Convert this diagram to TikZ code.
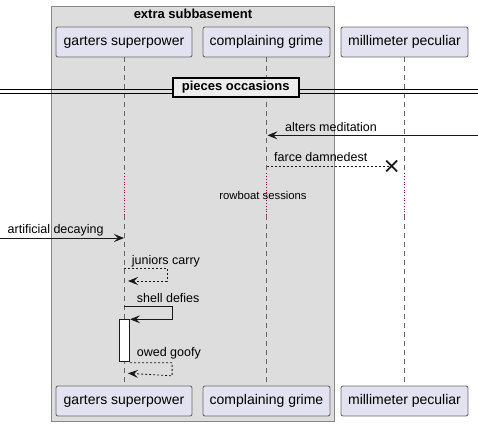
\documentclass[tikz,border=0pt]{standalone}
\usepackage{fontspec}
\setmainfont{Liberation Sans}
\usetikzlibrary{arrows.meta,shapes.misc}

\definecolor{partfill}{HTML}{E2E2F0}
\definecolor{partline}{HTML}{6A6A6A}
\definecolor{boxfill}{HTML}{DDDDDD}
\definecolor{boxline}{HTML}{888888}
\definecolor{delayred}{HTML}{A80036}

\tikzset{
  actorbox/.style={draw=partline, fill=partfill, rounded corners=2pt, line width=0.9pt,
    minimum height=30pt, inner sep=0pt, font=\fontsize{14}{16}\selectfont},
  lifeline/.style={draw=black!60, dash pattern=on 5pt off 4pt, line width=0.6pt},
  delayline/.style={draw=delayred, dotted, line width=0.7pt},
  msg/.style={draw=black!90, line width=0.8pt,
    -{Stealth[length=10pt,width=8pt,inset=4pt]}},
  reply/.style={msg, dash pattern=on 2pt off 2pt},
  msglabel/.style={anchor=base west, inner sep=0pt, font=\fontsize{12.5}{14}\selectfont},
  divbox/.style={draw=black, line width=1.6pt, fill=black!7, inner sep=0pt,
    minimum width=126pt, minimum height=19.5pt, font=\bfseries\fontsize{13}{15}\selectfont},
  actbox/.style={draw=black!90, fill=white, line width=0.8pt, inner sep=0pt,
    minimum width=10.4pt, minimum height=41.7pt},
  killmark/.style={draw=black!90, cross out, line width=1.8pt, minimum size=9pt, inner sep=0pt}
}

\begin{document}
\begin{tikzpicture}[x=1pt,y=-1pt]
\useasboundingbox (0,0) rectangle (478,426);

% the box round the first two participants
\draw[draw=boxline, fill=boxfill, line width=0.8pt] (51,6) rectangle (334,421);
\node[font=\bfseries\fontsize{13}{15}\selectfont, anchor=base, inner sep=0pt]
  (boxtitle) at (193,18.5) {extra subbasement};

% participants, top and bottom
\node[actorbox, minimum width=136pt] (gs) at (124,42) {garters superpower};
\node[actorbox, minimum width=127pt] (cg) at (266.5,42) {complaining grime};
\node[actorbox, minimum width=127pt] (mp) at (404.5,42) {millimeter peculiar};
\node[actorbox, minimum width=136pt] (gsb) at (124,401) {garters superpower};
\node[actorbox, minimum width=127pt] (cgb) at (266.5,401) {complaining grime};
\node[actorbox, minimum width=127pt] (mpb) at (404.5,401) {millimeter peculiar};

% lifelines, with the delay in the middle
\foreach \p in {gs,cg,mp}{
  \coordinate (\p-d1) at ([yshift=-116pt]\p.south);
  \coordinate (\p-d2) at ([yshift=-158pt]\p.south);
  \draw[lifeline] (\p.south) -- (\p-d1);
  \draw[delayline] (\p-d1) -- (\p-d2);
  \draw[lifeline] (\p-d2) -- (\p b.north);
}

% divider
\draw[line width=0.8pt] (0,89.5) -- (478,89.5);
\draw[line width=0.8pt] (0,93.5) -- (478,93.5);
\node[divbox] (divider) at (235.7,87.5) {pieces occasions};

% alters meditation
\coordinate (rightend) at (478,135.3);
\coordinate (cg-alt) at (cg.south |- 0,135.3);
\draw[msg] (rightend) -- ([xshift=1pt]cg-alt);
\node[msglabel] (altlabel) at (285,131) {alters meditation};

% farce damnedest
\coordinate (cg-far) at (cg.south |- 0,166);
\node[killmark] (kill) at (391.7,166) {};
\draw[draw=black!90, line width=0.8pt, dash pattern=on 2pt off 2pt] (cg-far) -- (kill.center);
\node[msglabel] (farlabel) at (274,161.5) {farce damnedest};

% delay text
\node[anchor=base, inner sep=0pt, font=\fontsize{11.3}{13}\selectfont]
  (delaytext) at (263,199) {rowboat sessions};

% artificial decaying
\coordinate (leftend) at (0,238);
\coordinate (gs-art) at (gs.south |- 0,238);
\draw[msg] (leftend) -- (gs-art);
\node[msglabel] (artlabel) at (7.5,233.3) {artificial decaying};

% juniors carry
\coordinate (gs-jun) at (gs.south |- 0,268);
\coordinate (gs-junb) at (gs.south |- 0,281);
\draw[reply] (gs-jun) -- ++(43,0) -- ++(0,13) -- ([xshift=4pt]gs-junb);
\node[msglabel] (junlabel) at (131.7,264.5) {juniors carry};

% shell defies, with activation
\node[actbox, anchor=north] (act) at (124.5,319.3) {};
\coordinate (gs-she) at (gs.south |- 0,306.7);
\draw[msg] (gs-she) -- ++(48,0) -- ++(0,12.6) -- (act.north east);
\node[msglabel] (shelabel) at (136.7,302) {shell defies};

% owed goofy
\coordinate (gs-owe) at (gs.south |- 0,373.3);
\draw[reply] ([yshift=-1pt]act.south east) -- ++(42,0) -- ++(0,13) -- ([xshift=4pt]gs-owe);
\node[msglabel] (owelabel) at (136.7,356) {owed goofy};

\end{tikzpicture}
\end{document}
